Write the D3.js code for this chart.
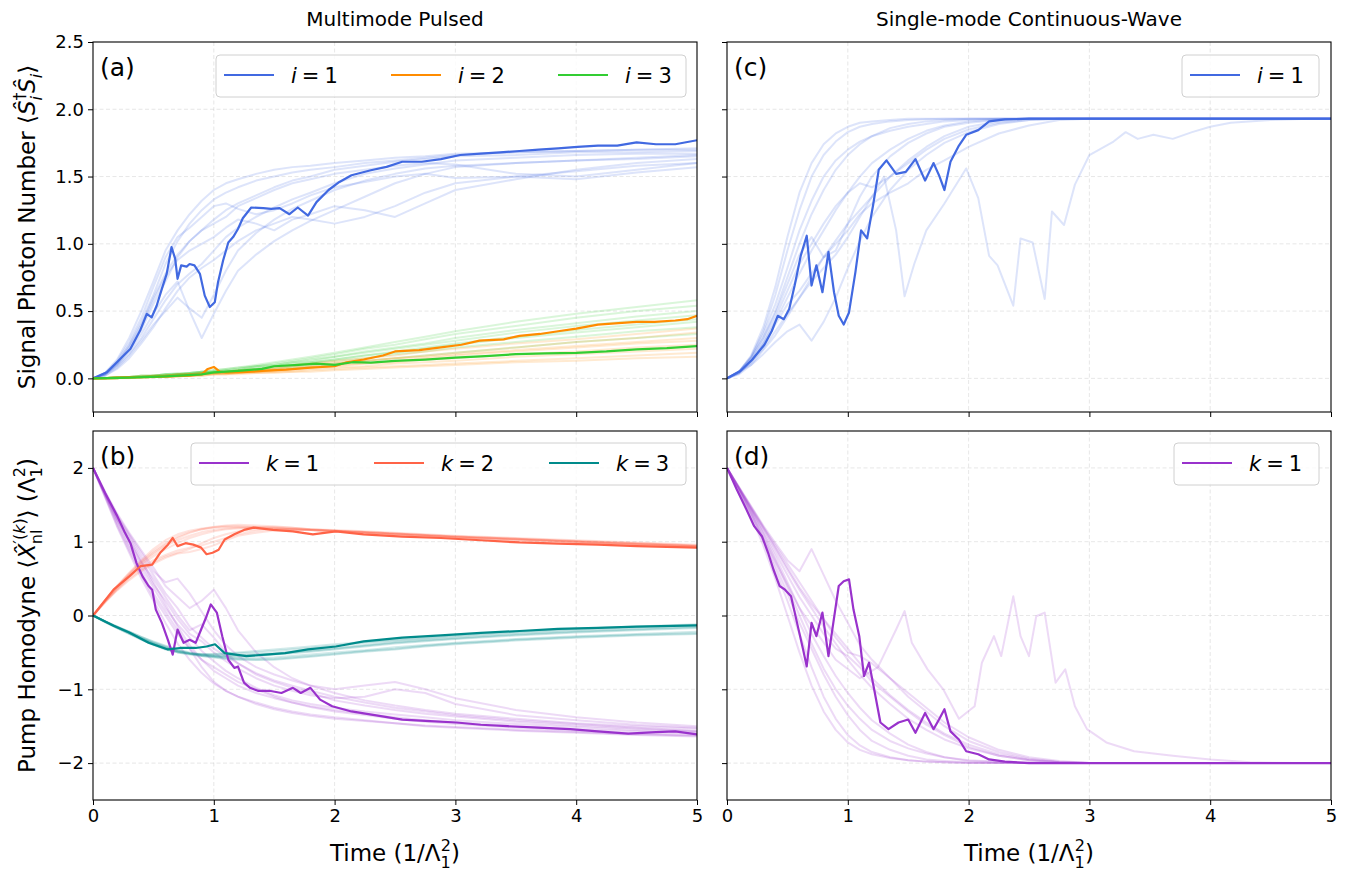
<!DOCTYPE html>
<html>
<head>
<meta charset="utf-8">
<script src="https://d3js.org/d3.v7.min.js"></script>
<style>
body { margin: 0; background: #fff; }
text { font-family: "DejaVu Sans", sans-serif; fill: #000; }
</style>
</head>
<body>
<svg id="chart" width="1361" height="871"></svg>
<script>
// ---- ticks ----
var timeTicks = [0, 1, 2, 3, 4, 5];
var signalTicks = [0, 0.5, 1, 1.5, 2, 2.5];
var pumpTicks = [-2, -1, 0, 1, 2];

// ---- shared time grid for the faint trajectories ----
var fadedTime = [0,0.1,0.2,0.3,0.4,0.5,0.6,0.7,0.8,0.9,1.0,1.1,1.2,1.35,1.5,1.65,1.8,2.0,2.25,2.5,2.75,3.0,3.5,4.0,4.5,5.0];

// (a) faint trajectories
var sig1Faded = [
  [0,0.04,0.12,0.25,0.42,0.62,0.85,1.02,1.15,1.25,1.33,1.38,1.42,1.47,1.50,1.53,1.55,1.57,1.60,1.62,1.64,1.66,1.68,1.69,1.70,1.71],
  [0,0.03,0.10,0.21,0.36,0.55,0.72,0.90,1.02,1.10,1.18,1.25,1.30,1.36,1.42,1.47,1.50,1.55,1.58,1.61,1.63,1.65,1.66,1.68,1.68,1.69],
  [0,0.03,0.09,0.18,0.30,0.44,0.58,0.70,0.78,0.85,0.95,1.05,1.12,1.20,1.27,1.33,1.38,1.45,1.52,1.56,1.59,1.62,1.64,1.66,1.67,1.67],
  [0,0.02,0.08,0.17,0.28,0.40,0.50,0.60,0.52,0.45,0.62,0.80,0.95,1.08,1.18,1.26,1.32,1.40,1.47,1.52,1.56,1.58,1.60,1.62,1.63,1.65],
  [0,0.04,0.13,0.27,0.45,0.68,0.90,1.05,1.12,1.20,1.28,1.30,1.26,1.22,1.25,1.30,1.36,1.42,1.46,1.50,1.52,1.49,1.50,1.54,1.58,1.60],
  [0,0.03,0.11,0.23,0.38,0.58,0.76,0.88,0.95,1.00,1.05,1.12,1.18,1.15,1.10,1.18,1.22,1.28,1.25,1.20,1.30,1.40,1.48,1.55,1.60,1.63],
  [0,0.03,0.10,0.20,0.33,0.48,0.62,0.72,0.50,0.30,0.48,0.65,0.80,0.92,1.02,1.10,1.17,1.25,1.35,1.45,1.52,1.57,1.60,1.62,1.64,1.66],
  [0,0.04,0.14,0.30,0.50,0.72,0.95,1.10,1.22,1.32,1.40,1.45,1.48,1.52,1.55,1.57,1.58,1.60,1.62,1.64,1.65,1.67,1.68,1.69,1.70,1.70],
  [0,0.02,0.07,0.15,0.26,0.38,0.52,0.65,0.75,0.82,0.88,0.95,1.02,1.10,1.15,1.20,1.18,1.15,1.20,1.28,1.38,1.45,1.50,1.48,1.53,1.57],
  [0,0.03,0.11,0.24,0.40,0.60,0.78,0.92,1.02,1.10,1.15,1.20,1.28,1.34,1.40,1.45,1.48,1.52,1.55,1.58,1.60,1.59,1.52,1.50,1.55,1.60]
];
var sig2Faded = [
  [0,0,0.01,0.01,0.01,0.02,0.02,0.02,0.03,0.03,0.04,0.04,0.05,0.06,0.07,0.08,0.09,0.11,0.13,0.15,0.17,0.19,0.23,0.27,0.30,0.34],
  [0,0,0,0.01,0.01,0.01,0.02,0.02,0.03,0.03,0.03,0.04,0.05,0.05,0.06,0.07,0.08,0.10,0.11,0.13,0.15,0.17,0.20,0.23,0.26,0.28],
  [0,0,0,0.01,0.01,0.01,0.02,0.02,0.02,0.03,0.03,0.03,0.04,0.05,0.05,0.06,0.07,0.08,0.09,0.11,0.12,0.13,0.16,0.18,0.20,0.22],
  [0,0,0,0,0.01,0.01,0.01,0.02,0.02,0.02,0.03,0.03,0.03,0.04,0.04,0.05,0.05,0.06,0.07,0.08,0.09,0.10,0.12,0.13,0.15,0.16],
  [0,0,0.01,0.01,0.01,0.02,0.02,0.03,0.03,0.04,0.04,0.05,0.05,0.06,0.07,0.09,0.10,0.12,0.13,0.15,0.16,0.18,0.21,0.24,0.27,0.30],
  [0,0,0.01,0.01,0.02,0.02,0.02,0.03,0.03,0.04,0.04,0.05,0.06,0.07,0.08,0.10,0.11,0.13,0.15,0.17,0.20,0.22,0.26,0.29,0.33,0.37],
  [0,0,0,0.01,0.01,0.01,0.01,0.02,0.02,0.02,0.03,0.03,0.04,0.04,0.05,0.05,0.06,0.07,0.08,0.09,0.10,0.11,0.13,0.15,0.17,0.19],
  [0,0,0,0.01,0.01,0.01,0.02,0.02,0.03,0.03,0.04,0.04,0.05,0.05,0.06,0.07,0.08,0.09,0.11,0.12,0.14,0.15,0.18,0.20,0.23,0.25]
];
var sig3Faded = [
  [0,0,0.01,0.01,0.02,0.02,0.03,0.04,0.04,0.05,0.06,0.07,0.08,0.10,0.12,0.14,0.16,0.19,0.23,0.27,0.31,0.35,0.42,0.48,0.53,0.58],
  [0,0,0.01,0.01,0.02,0.02,0.03,0.03,0.04,0.05,0.05,0.06,0.07,0.09,0.10,0.12,0.14,0.16,0.20,0.23,0.26,0.30,0.36,0.41,0.46,0.50],
  [0,0,0,0.01,0.01,0.02,0.02,0.03,0.03,0.04,0.05,0.05,0.06,0.08,0.09,0.11,0.12,0.14,0.17,0.20,0.23,0.26,0.31,0.36,0.40,0.44],
  [0,0,0,0.01,0.01,0.02,0.02,0.03,0.03,0.04,0.04,0.05,0.06,0.07,0.08,0.09,0.11,0.13,0.15,0.18,0.20,0.23,0.27,0.31,0.35,0.38],
  [0,0,0,0.01,0.01,0.01,0.02,0.02,0.03,0.03,0.04,0.04,0.05,0.06,0.07,0.08,0.09,0.11,0.13,0.15,0.17,0.19,0.23,0.27,0.30,0.33],
  [0,0,0.01,0.01,0.02,0.02,0.03,0.03,0.04,0.05,0.06,0.07,0.08,0.09,0.11,0.13,0.15,0.18,0.22,0.25,0.29,0.33,0.39,0.45,0.50,0.54],
  [0,0,0,0.01,0.01,0.02,0.02,0.03,0.03,0.04,0.05,0.05,0.06,0.07,0.09,0.10,0.12,0.14,0.17,0.19,0.22,0.25,0.30,0.34,0.38,0.42],
  [0,0,0.01,0.01,0.02,0.02,0.03,0.03,0.04,0.05,0.05,0.06,0.07,0.09,0.10,0.12,0.13,0.16,0.19,0.22,0.25,0.28,0.34,0.39,0.43,0.47]
];

// (b) faint trajectories
var pump1Faded = [
  [2,1.65,1.32,1.05,0.75,0.45,0.15,-0.15,-0.4,-0.6,-0.75,-0.85,-0.95,-1.05,-1.12,-1.18,-1.23,-1.28,-1.33,-1.38,-1.42,-1.45,-1.5,-1.54,-1.57,-1.6],
  [2,1.62,1.25,0.92,0.6,0.3,0.05,-0.2,-0.45,-0.7,-0.9,-1.02,-1.1,-1.2,-1.27,-1.32,-1.36,-1.4,-1.43,-1.46,-1.49,-1.51,-1.55,-1.58,-1.61,-1.63],
  [2,1.68,1.38,1.12,0.88,0.65,0.4,0.25,0.1,0.2,0.35,0.1,-0.2,-0.5,-0.7,-0.85,-0.95,-1.05,-1.15,-1.22,-1.28,-1.33,-1.4,-1.46,-1.5,-1.53],
  [2,1.64,1.3,1.0,0.7,0.42,0.2,-0.05,-0.25,-0.35,-0.5,-0.62,-0.72,-0.85,-0.95,-1.02,-1.08,-1.12,-1.1,-1.0,-1.05,-1.2,-1.35,-1.42,-1.48,-1.52],
  [2,1.66,1.34,1.08,0.8,0.55,0.3,0.1,-0.15,-0.3,-0.45,-0.55,-0.65,-0.78,-0.88,-0.95,-1.02,-1.1,-1.18,-1.25,-1.3,-1.35,-1.42,-1.47,-1.52,-1.56],
  [2,1.6,1.2,0.85,0.5,0.2,-0.1,-0.38,-0.6,-0.78,-0.92,-1.02,-1.1,-1.18,-1.25,-1.3,-1.34,-1.38,-1.42,-1.46,-1.5,-1.52,-1.56,-1.59,-1.62,-1.64],
  [2,1.67,1.36,1.1,0.85,0.6,0.45,0.5,0.3,0.05,-0.2,-0.4,-0.55,-0.7,-0.8,-0.88,-0.95,-1.0,-0.95,-0.9,-1.0,-1.12,-1.28,-1.38,-1.45,-1.5],
  [2,1.63,1.28,0.95,0.65,0.38,0.1,-0.12,-0.3,-0.48,-0.62,-0.75,-0.85,-0.98,-1.08,-1.15,-1.2,-1.25,-1.3,-1.34,-1.38,-1.42,-1.47,-1.51,-1.55,-1.58],
  [2,1.65,1.3,1.02,0.72,0.5,0.25,0.0,-0.2,-0.12,-0.3,-0.5,-0.65,-0.8,-0.9,-0.98,-1.05,-1.15,-1.22,-1.28,-1.33,-1.37,-1.44,-1.49,-1.53,-1.57],
  [2,1.61,1.22,0.88,0.55,0.25,0.0,-0.25,-0.45,-0.6,-0.7,-0.8,-0.9,-1.0,-1.1,-1.18,-1.24,-1.3,-1.35,-1.4,-1.44,-1.47,-1.52,-1.56,-1.6,-1.62]
];
var pump2Faded = [
  [0,0.2,0.4,0.58,0.75,0.9,1.02,1.1,1.15,1.18,1.2,1.21,1.21,1.2,1.19,1.18,1.17,1.15,1.13,1.11,1.09,1.07,1.04,1.01,0.98,0.95],
  [0,0.19,0.37,0.53,0.68,0.8,0.9,0.98,1.05,1.1,1.14,1.17,1.18,1.19,1.18,1.17,1.16,1.14,1.12,1.1,1.08,1.06,1.03,1.0,0.97,0.94],
  [0,0.18,0.35,0.5,0.62,0.72,0.8,0.85,0.9,0.98,1.05,1.1,1.14,1.17,1.18,1.17,1.16,1.15,1.13,1.11,1.09,1.07,1.04,1.01,0.98,0.95],
  [0,0.2,0.39,0.56,0.72,0.85,0.96,1.05,1.12,1.17,1.2,1.22,1.23,1.22,1.21,1.19,1.17,1.15,1.13,1.11,1.09,1.07,1.04,1.0,0.97,0.94],
  [0,0.19,0.36,0.52,0.65,0.75,0.82,0.88,0.92,0.95,1.0,1.05,1.1,1.15,1.17,1.17,1.16,1.15,1.12,1.1,1.08,1.06,1.02,0.99,0.96,0.93],
  [0,0.2,0.38,0.55,0.7,0.83,0.94,1.02,1.08,1.13,1.16,1.18,1.19,1.2,1.2,1.19,1.17,1.16,1.14,1.12,1.1,1.08,1.05,1.02,0.99,0.96],
  [0,0.18,0.34,0.48,0.6,0.7,0.78,0.84,0.86,0.9,0.95,1.02,1.08,1.12,1.15,1.16,1.16,1.14,1.12,1.1,1.08,1.06,1.03,1.0,0.97,0.94],
  [0,0.2,0.4,0.57,0.73,0.87,0.98,1.07,1.13,1.17,1.19,1.2,1.2,1.19,1.18,1.17,1.16,1.14,1.12,1.1,1.08,1.06,1.03,1.0,0.96,0.93]
];
var pump3Faded = [
  [0,-0.08,-0.16,-0.24,-0.32,-0.39,-0.45,-0.5,-0.53,-0.55,-0.56,-0.56,-0.56,-0.55,-0.53,-0.51,-0.49,-0.46,-0.42,-0.38,-0.35,-0.32,-0.27,-0.23,-0.2,-0.17],
  [0,-0.08,-0.15,-0.22,-0.29,-0.35,-0.41,-0.46,-0.5,-0.53,-0.55,-0.57,-0.58,-0.58,-0.57,-0.55,-0.53,-0.5,-0.47,-0.43,-0.4,-0.37,-0.32,-0.28,-0.25,-0.22],
  [0,-0.09,-0.17,-0.25,-0.33,-0.4,-0.46,-0.5,-0.52,-0.53,-0.53,-0.52,-0.51,-0.5,-0.48,-0.46,-0.44,-0.41,-0.37,-0.34,-0.31,-0.28,-0.23,-0.19,-0.16,-0.13],
  [0,-0.08,-0.15,-0.23,-0.3,-0.37,-0.43,-0.48,-0.52,-0.55,-0.57,-0.59,-0.6,-0.6,-0.59,-0.57,-0.55,-0.52,-0.48,-0.45,-0.41,-0.38,-0.33,-0.29,-0.26,-0.24],
  [0,-0.08,-0.16,-0.23,-0.31,-0.38,-0.44,-0.49,-0.52,-0.54,-0.55,-0.55,-0.54,-0.53,-0.51,-0.49,-0.47,-0.44,-0.4,-0.36,-0.33,-0.3,-0.25,-0.21,-0.18,-0.15],
  [0,-0.09,-0.17,-0.25,-0.32,-0.39,-0.45,-0.49,-0.51,-0.52,-0.52,-0.51,-0.5,-0.48,-0.46,-0.44,-0.42,-0.39,-0.36,-0.33,-0.3,-0.27,-0.22,-0.18,-0.15,-0.12],
  [0,-0.08,-0.15,-0.22,-0.29,-0.36,-0.42,-0.47,-0.51,-0.54,-0.56,-0.58,-0.59,-0.6,-0.6,-0.58,-0.56,-0.53,-0.49,-0.46,-0.42,-0.39,-0.34,-0.3,-0.27,-0.25],
  [0,-0.08,-0.16,-0.24,-0.31,-0.38,-0.44,-0.48,-0.51,-0.53,-0.54,-0.54,-0.54,-0.53,-0.52,-0.5,-0.48,-0.45,-0.41,-0.37,-0.34,-0.31,-0.26,-0.22,-0.19,-0.16]
];

// (c) faint trajectories
var cwSigFaded = [
  [0,0.05,0.16,0.35,0.62,0.95,1.25,1.5,1.66,1.76,1.83,1.87,1.89,1.91,1.92,1.925,1.93,1.93,1.93,1.93,1.93,1.93,1.93,1.93,1.93,1.93],
  [0,0.05,0.15,0.3,0.5,0.75,1.0,1.22,1.4,1.55,1.66,1.74,1.8,1.86,1.89,1.91,1.92,1.93,1.93,1.93,1.93,1.93,1.93,1.93,1.93,1.93],
  [0,0.04,0.13,0.26,0.42,0.6,0.78,0.95,1.1,1.25,1.38,1.5,1.6,1.7,1.78,1.84,1.88,1.91,1.925,1.93,1.93,1.93,1.93,1.93,1.93,1.93],
  [0,0.04,0.12,0.22,0.35,0.48,0.6,0.72,0.82,0.92,1.05,1.2,1.35,1.5,1.62,1.72,1.8,1.87,1.91,1.93,1.93,1.93,1.93,1.93,1.93,1.93],
  [0,0.05,0.15,0.3,0.48,0.7,0.92,1.05,0.9,0.95,1.15,1.35,1.5,1.65,1.75,1.82,1.87,1.9,1.92,1.93,1.93,1.93,1.93,1.93,1.93,1.93],
  [0,0.03,0.1,0.18,0.27,0.35,0.4,0.28,0.42,0.6,0.82,1.02,1.2,1.4,1.55,1.66,1.75,1.83,1.89,1.92,1.93,1.93,1.93,1.93,1.93,1.93],
  [0,0.05,0.17,0.38,0.68,1.05,1.38,1.6,1.74,1.82,1.87,1.9,1.91,1.92,1.93,1.93,1.93,1.93,1.93,1.93,1.93,1.93,1.93,1.93,1.93,1.93],
  [0,0.04,0.13,0.27,0.45,0.65,0.85,1.0,1.15,1.28,1.38,1.45,1.42,1.5,1.6,1.7,1.78,1.85,1.9,1.92,1.93,1.93,1.93,1.93,1.93,1.93],
  [0,0.04,0.12,0.25,0.4,0.55,0.65,0.78,0.9,1.0,1.1,1.22,1.3,1.38,1.45,1.55,1.62,1.72,1.82,1.88,1.92,1.93,1.93,1.93,1.93,1.93],
  [0,0.05,0.16,0.33,0.55,0.82,1.1,1.32,1.5,1.62,1.7,1.76,1.8,1.84,1.87,1.89,1.91,1.92,1.93,1.93,1.93,1.93,1.93,1.93,1.93,1.93]
];
var cwSigOutT = [0,0.2,0.4,0.6,0.8,1.0,1.2,1.3,1.4,1.47,1.55,1.65,1.8,1.98,2.08,2.17,2.24,2.37,2.43,2.53,2.63,2.69,2.79,2.88,3.0,3.2,3.3,3.4,3.53,3.69,3.85,4.0,4.17,4.5,4.82,5.0];
var cwSigOutV = [0,0.1,0.32,0.6,0.9,1.15,1.35,1.5,1.1,0.61,0.85,1.1,1.3,1.56,1.34,0.91,0.84,0.54,1.04,1.01,0.59,1.24,1.14,1.44,1.66,1.76,1.83,1.78,1.81,1.78,1.83,1.87,1.9,1.92,1.93,1.93];

// (d) faint trajectories
var cwPumpFaded = [
  [2,1.7,1.35,0.95,0.5,0.0,-0.5,-0.95,-1.3,-1.55,-1.72,-1.82,-1.88,-1.93,-1.96,-1.98,-1.99,-2,-2,-2,-2,-2,-2,-2,-2,-2],
  [2,1.72,1.42,1.1,0.75,0.38,0.0,-0.38,-0.72,-1.0,-1.22,-1.4,-1.55,-1.7,-1.8,-1.87,-1.92,-1.96,-1.98,-1.99,-2,-2,-2,-2,-2,-2],
  [2,1.73,1.45,1.18,0.9,0.62,0.35,0.1,-0.15,-0.38,-0.6,-0.8,-0.98,-1.2,-1.4,-1.55,-1.68,-1.8,-1.9,-1.96,-1.99,-2,-2,-2,-2,-2],
  [2,1.74,1.48,1.22,0.98,0.75,0.6,0.9,0.55,0.2,-0.1,-0.4,-0.6,-0.85,-1.1,-1.3,-1.5,-1.7,-1.85,-1.94,-1.98,-2,-2,-2,-2,-2],
  [2,1.71,1.4,1.05,0.68,0.3,-0.1,-0.45,-0.8,-1.1,-1.35,-1.55,-1.7,-1.82,-1.9,-1.95,-1.97,-1.99,-2,-2,-2,-2,-2,-2,-2,-2],
  [2,1.72,1.44,1.15,0.85,0.55,0.25,0.0,-0.25,-0.45,-0.55,-0.7,-0.9,-1.1,-1.3,-1.48,-1.62,-1.78,-1.9,-1.96,-1.99,-2,-2,-2,-2,-2],
  [2,1.7,1.38,1.02,0.62,0.2,-0.25,-0.7,-1.1,-1.4,-1.62,-1.76,-1.85,-1.92,-1.96,-1.98,-1.99,-2,-2,-2,-2,-2,-2,-2,-2,-2],
  [2,1.73,1.46,1.2,0.95,0.7,0.45,0.2,-0.05,-0.3,-0.5,-0.55,-0.65,-0.85,-1.05,-1.25,-1.45,-1.65,-1.82,-1.92,-1.97,-2,-2,-2,-2,-2],
  [2,1.72,1.43,1.12,0.8,0.45,0.1,-0.25,-0.55,-0.82,-1.05,-1.25,-1.42,-1.6,-1.75,-1.85,-1.92,-1.97,-1.99,-2,-2,-2,-2,-2,-2,-2],
  [2,1.73,1.47,1.2,0.92,0.65,0.38,0.15,-0.05,-0.25,-0.45,-0.65,-0.85,-1.08,-1.28,-1.45,-1.6,-1.75,-1.88,-1.95,-1.99,-2,-2,-2,-2,-2]
];
var cwPumpOutT = [0,0.3,0.6,0.9,1.1,1.25,1.4,1.47,1.53,1.66,1.79,1.92,2.05,2.11,2.21,2.27,2.37,2.43,2.5,2.56,2.63,2.72,2.8,2.88,2.98,3.14,3.37,3.69,4.0,4.33,4.7,5.0];
var cwPumpOutV = [2,1.05,0.1,-0.6,-0.85,-0.7,-0.19,0.06,-0.37,-0.73,-1.0,-1.4,-1.23,-0.64,-0.28,-0.55,0.26,-0.28,-0.55,-0.01,0.04,-0.91,-0.73,-1.23,-1.54,-1.72,-1.84,-1.9,-1.95,-1.99,-2,-2];

// ---- highlighted trajectories ----
var sig1T = [0,0.115,0.225,0.31,0.39,0.445,0.486,0.527,0.57,0.61,0.65,0.68,0.70,0.73,0.775,0.80,0.84,0.885,0.925,0.967,1.008,1.035,1.077,1.12,1.16,1.2,1.24,1.31,1.41,1.475,1.545,1.626,1.695,1.78,1.85,1.95,2.04,2.14,2.30,2.43,2.56,2.72,2.88,3.04,3.21,3.37,3.53,3.69,3.85,4.01,4.18,4.34,4.50,4.66,4.82,5.0];
var sig1V = [0,0.045,0.144,0.22,0.355,0.48,0.454,0.54,0.665,0.777,0.975,0.89,0.74,0.84,0.83,0.85,0.84,0.777,0.615,0.53,0.566,0.715,0.876,1.01,1.05,1.11,1.19,1.27,1.265,1.26,1.265,1.22,1.27,1.21,1.31,1.40,1.46,1.51,1.547,1.572,1.61,1.61,1.63,1.66,1.67,1.68,1.69,1.70,1.71,1.72,1.73,1.73,1.754,1.74,1.74,1.77];
var sig2T = [0,0.3,0.6,0.8,0.9,0.95,1.0,1.05,1.1,1.2,1.4,1.6,1.8,2.0,2.1,2.24,2.4,2.5,2.7,2.88,3.05,3.2,3.4,3.53,3.7,3.85,4.0,4.18,4.35,4.5,4.65,4.82,4.92,5.0];
var sig2V = [0,0.005,0.012,0.02,0.03,0.07,0.085,0.05,0.045,0.045,0.055,0.065,0.08,0.09,0.12,0.14,0.17,0.2,0.21,0.23,0.25,0.28,0.29,0.316,0.33,0.35,0.37,0.40,0.41,0.42,0.42,0.43,0.44,0.465];
var sig3T = [0,0.3,0.6,0.9,1.0,1.2,1.4,1.5,1.7,1.85,2.0,2.15,2.3,2.5,2.75,3.0,3.25,3.5,3.75,4.0,4.25,4.5,4.75,5.0];
var sig3V = [0,0.005,0.015,0.03,0.045,0.055,0.07,0.09,0.10,0.11,0.10,0.12,0.117,0.13,0.14,0.154,0.165,0.18,0.185,0.19,0.20,0.216,0.225,0.24];

var pump1T = [0,0.1,0.2,0.265,0.31,0.36,0.41,0.46,0.49,0.52,0.57,0.62,0.66,0.70,0.75,0.80,0.85,0.895,0.94,0.975,1.025,1.07,1.12,1.17,1.20,1.25,1.30,1.365,1.46,1.56,1.655,1.72,1.80,1.88,1.98,2.14,2.37,2.56,2.79,3.01,3.21,3.43,3.69,3.95,4.18,4.43,4.66,4.82,5.0];
var pump1V = [2,1.66,1.35,1.12,0.98,0.71,0.53,0.40,0.35,0.08,-0.10,-0.33,-0.53,-0.19,-0.37,-0.33,-0.37,-0.19,-0.01,0.15,0.04,-0.28,-0.60,-0.71,-0.69,-0.91,-0.98,-1.02,-1.02,-1.05,-0.98,-1.05,-0.98,-1.14,-1.23,-1.30,-1.36,-1.41,-1.43,-1.45,-1.48,-1.50,-1.52,-1.54,-1.57,-1.60,-1.58,-1.57,-1.61];
var pump2T = [0,0.17,0.30,0.395,0.49,0.556,0.62,0.66,0.70,0.766,0.83,0.895,0.94,0.99,1.04,1.09,1.17,1.25,1.33,1.49,1.655,1.82,2.01,2.24,2.56,2.88,3.21,3.53,3.85,4.18,4.50,5.0];
var pump2V = [0,0.35,0.53,0.67,0.69,0.85,0.96,1.05,0.94,0.98,0.96,0.92,0.83,0.85,0.89,1.03,1.10,1.16,1.19,1.16,1.14,1.10,1.14,1.10,1.07,1.05,1.02,0.99,0.975,0.96,0.94,0.92];
var pump3T = [0,0.17,0.30,0.46,0.62,0.72,0.85,0.94,1.01,1.09,1.27,1.43,1.59,1.78,2.01,2.24,2.56,2.88,3.21,3.53,3.85,4.18,4.50,5.0];
var pump3V = [0,-0.14,-0.23,-0.37,-0.46,-0.44,-0.44,-0.42,-0.39,-0.51,-0.55,-0.53,-0.51,-0.46,-0.42,-0.35,-0.30,-0.27,-0.235,-0.21,-0.18,-0.167,-0.15,-0.135];

var cwSigT = [0,0.11,0.21,0.31,0.37,0.42,0.47,0.515,0.56,0.61,0.66,0.70,0.74,0.79,0.84,0.886,0.925,0.966,1.01,1.063,1.11,1.16,1.21,1.256,1.32,1.40,1.48,1.56,1.64,1.71,1.755,1.80,1.85,1.92,1.98,2.08,2.17,2.30,2.5,3.0,4.0,5.0];
var cwSigV = [0,0.055,0.14,0.25,0.35,0.465,0.44,0.515,0.69,0.91,1.06,0.69,0.84,0.64,0.94,0.64,0.465,0.40,0.49,0.79,1.10,1.04,1.29,1.55,1.62,1.52,1.535,1.63,1.47,1.60,1.51,1.40,1.61,1.73,1.81,1.845,1.91,1.925,1.93,1.93,1.93,1.93];
var cwPumpT = [0,0.08,0.16,0.225,0.29,0.34,0.385,0.435,0.48,0.53,0.58,0.63,0.66,0.70,0.74,0.79,0.84,0.88,0.925,0.966,1.01,1.047,1.095,1.134,1.176,1.224,1.27,1.337,1.42,1.50,1.56,1.64,1.71,1.755,1.80,1.85,1.92,1.98,2.08,2.17,2.30,2.5,3.0,4.0,5.0];
var cwPumpV = [2,1.71,1.44,1.21,1.07,0.85,0.62,0.40,0.35,0.26,-0.10,-0.46,-0.69,-0.10,-0.28,0.04,-0.55,-0.10,0.40,0.465,0.49,0.08,-0.28,-0.82,-0.64,-1.05,-1.45,-1.54,-1.45,-1.41,-1.59,-1.32,-1.54,-1.41,-1.27,-1.57,-1.68,-1.84,-1.88,-1.95,-1.98,-2,-2,-2,-2];

// ---- colours ----
var cBlue = "#4169e1", cOrange = "#ff8c00", cGreen = "#32cd32";
var cPurple = "#9932cc", cTomato = "#ff6347", cTeal = "#008b8b";

var svg = d3.select("#chart");

var L = [93, 697], R = [727, 1331];
var T = [42, 412], B = [431, 800];
var tickFont = 18, labelFont = 23;

function pairs(t, v) { return t.map(function(d, i){ return [d, v[i]]; }); }

var clipId = 0;
function panel(xr, yr, ydom, yticks, yfmt, showX, showY, letter) {
  var x = d3.scaleLinear().domain([0, 5]).range(xr);
  var y = d3.scaleLinear().domain(ydom).range([yr[1], yr[0]]);
  var g = svg.append("g");
  // grid
  g.selectAll(".vg").data(timeTicks.slice(1, 5)).enter().append("line")
    .attr("x1", function(d){ return x(d); }).attr("x2", function(d){ return x(d); })
    .attr("y1", yr[0]).attr("y2", yr[1])
    .attr("stroke", "#b0b0b0").attr("stroke-opacity", 0.3).attr("stroke-dasharray", "4,2.5");
  g.selectAll(".hg").data(yticks.filter(function(d){ return y(d) > yr[0] + 1; })).enter().append("line")
    .attr("x1", xr[0]).attr("x2", xr[1])
    .attr("y1", function(d){ return y(d); }).attr("y2", function(d){ return y(d); })
    .attr("stroke", "#b0b0b0").attr("stroke-opacity", 0.3).attr("stroke-dasharray", "4,2.5");
  var id = "clip" + (clipId++);
  svg.append("clipPath").attr("id", id).append("rect")
    .attr("x", xr[0]).attr("y", yr[0]).attr("width", xr[1] - xr[0]).attr("height", yr[1] - yr[0]);
  var plot = svg.append("g").attr("clip-path", "url(#" + id + ")");
  // axes
  var xa = d3.axisBottom(x).tickValues(timeTicks).tickSize(5).tickPadding(4)
    .tickFormat(showX ? d3.format("d") : "");
  var ya = d3.axisLeft(y).tickValues(yticks).tickSize(5).tickPadding(4)
    .tickFormat(showY ? yfmt : "");
  var gx = svg.append("g").attr("transform", "translate(0," + yr[1] + ")").call(xa);
  var gy = svg.append("g").attr("transform", "translate(" + xr[0] + ",0)").call(ya);
  [gx, gy].forEach(function(a){
    a.attr("font-size", tickFont).attr("font-family", "DejaVu Sans");
    a.select(".domain").remove();
    a.selectAll("line").attr("stroke", "#000").attr("stroke-width", 1);
    a.selectAll("text").attr("fill", "#000").style("font-size", tickFont + "px");
  });
  svg.append("rect").attr("x", xr[0]).attr("y", yr[0])
    .attr("width", xr[1] - xr[0]).attr("height", yr[1] - yr[0])
    .attr("fill", "none").attr("stroke", "#000").attr("stroke-width", 1.1);
  svg.append("text").attr("x", xr[0] + 7).attr("y", yr[0] + 34)
    .attr("font-size", 25).text(letter);
  return { x: x, y: y, plot: plot };
}

function drawLines(p, tGrid, rows, color, alpha, w) {
  var line = d3.line().x(function(d){ return p.x(d[0]); }).y(function(d){ return p.y(d[1]); });
  p.plot.append("g").selectAll("path").data(rows).enter().append("path")
    .attr("d", function(r){ return line(pairs(tGrid, r)); })
    .attr("fill", "none").attr("stroke", color).attr("stroke-opacity", alpha)
    .attr("stroke-width", w).attr("stroke-linejoin", "round");
}
function drawMain(p, t, v, color) {
  var line = d3.line().x(function(d){ return p.x(d[0]); }).y(function(d){ return p.y(d[1]); });
  p.plot.append("path").attr("d", line(pairs(t, v)))
    .attr("fill", "none").attr("stroke", color).attr("stroke-width", 2.2).attr("stroke-linejoin", "round");
}

var minus = function(d){ return d3.format("d")(d).replace("-", "\u2212"); };

var pa = panel(L, T, [-0.25, 2.5], signalTicks, d3.format(".1f"), false, true, "(a)");
var pb = panel(L, B, [-2.5, 2.5], pumpTicks, minus, true, true, "(b)");
var pc = panel(R, T, [-0.25, 2.5], signalTicks, d3.format(".1f"), false, false, "(c)");
var pd = panel(R, B, [-2.5, 2.5], pumpTicks, minus, true, false, "(d)");

var fa = 0.18;
drawLines(pa, fadedTime, sig1Faded, cBlue, fa, 2);
drawLines(pa, fadedTime, sig3Faded, cGreen, fa, 2);
drawLines(pa, fadedTime, sig2Faded, cOrange, fa, 2);
drawMain(pa, sig1T, sig1V, cBlue);
drawMain(pa, sig2T, sig2V, cOrange);
drawMain(pa, sig3T, sig3V, cGreen);

drawLines(pb, fadedTime, pump1Faded, cPurple, fa, 2);
drawLines(pb, fadedTime, pump2Faded, cTomato, fa, 2);
drawLines(pb, fadedTime, pump3Faded, cTeal, fa, 2);
drawMain(pb, pump1T, pump1V, cPurple);
drawMain(pb, pump2T, pump2V, cTomato);
drawMain(pb, pump3T, pump3V, cTeal);

drawLines(pc, fadedTime, cwSigFaded, cBlue, fa, 2);
drawLines(pc, cwSigOutT, [cwSigOutV], cBlue, fa, 2);
drawMain(pc, cwSigT, cwSigV, cBlue);

drawLines(pd, fadedTime, cwPumpFaded, cPurple, fa, 2);
drawLines(pd, cwPumpOutT, [cwPumpOutV], cPurple, fa, 2);
drawMain(pd, cwPumpT, cwPumpV, cPurple);

// ---- rich text helper (sub/superscripts), dx in px ----
function rich(sel, segs, size) {
  var cur = 0;
  segs.forEach(function(s){
    var off = s.s === "sup" ? -0.42 * size : (s.s === "sub" ? 0.3 * size : 0);
    var ts = sel.append("tspan").text(s.t).attr("dy", off - cur)
      .attr("font-size", s.s ? size * 0.7 : size);
    if (s.it) ts.attr("font-style", "italic");
    if (s.dx) ts.attr("dx", s.dx);
    cur = off;
  });
  if (cur) sel.append("tspan").text("").attr("dy", -cur);
}

// ---- legends ----
function legend(x0, y0, w, entries) {
  svg.append("rect").attr("x", x0).attr("y", y0).attr("width", w).attr("height", 42)
    .attr("rx", 4).attr("fill", "#fff").attr("fill-opacity", 0.8)
    .attr("stroke", "#d0d0d0").attr("stroke-width", 1);
  entries.forEach(function(e){
    svg.append("line").attr("x1", e.x).attr("x2", e.x + 50).attr("y1", y0 + 20).attr("y2", y0 + 20)
      .attr("stroke", e.c).attr("stroke-width", 2.2);
    var t = svg.append("text").attr("x", e.x + 67).attr("y", y0 + 28).attr("font-size", 21);
    t.append("tspan").attr("font-style", "italic").text(e.v);
    t.append("tspan").attr("dx", 5).text("=");
    t.append("tspan").attr("dx", 5).text(e.n);
  });
}
legend(216, 55, 470, [{x: 224, c: cBlue, v: "i", n: 1}, {x: 391, c: cOrange, v: "i", n: 2}, {x: 558, c: cGreen, v: "i", n: 3}]);
legend(191, 443, 495, [{x: 199, c: cPurple, v: "k", n: 1}, {x: 374, c: cTomato, v: "k", n: 2}, {x: 549, c: cTeal, v: "k", n: 3}]);
legend(1182, 55, 137, [{x: 1190, c: cBlue, v: "i", n: 1}]);
legend(1174, 443, 145, [{x: 1182, c: cPurple, v: "k", n: 1}]);

// ---- titles ----
svg.append("text").attr("x", (L[0] + L[1]) / 2).attr("y", 26).attr("text-anchor", "middle")
  .attr("font-size", 20).text("Multimode Pulsed");
svg.append("text").attr("x", (R[0] + R[1]) / 2).attr("y", 26).attr("text-anchor", "middle")
  .attr("font-size", 20).text("Single-mode Continuous-Wave");

// ---- axis labels ----
var yl1 = svg.append("text").attr("transform", "translate(35," + (T[0] + T[1]) / 2 + ") rotate(-90)")
  .attr("text-anchor", "middle").attr("font-size", labelFont);
rich(yl1, [
  {t: "Signal Photon Number \u27E8"},
  {t: "S\u0302", it: true},
  {t: "\u2020", s: "sup"},
  {t: "i", s: "sub", it: true, dx: -8},
  {t: "S\u0302", it: true, dx: 3},
  {t: "i", s: "sub", it: true},
  {t: "\u27E9"}
], labelFont);

var yl2 = svg.append("text").attr("transform", "translate(35," + (B[0] + B[1]) / 2 + ") rotate(-90)")
  .attr("text-anchor", "middle").attr("font-size", labelFont);
rich(yl2, [
  {t: "Pump Homodyne \u27E8"},
  {t: "X\u0302", it: true},
  {t: "\u2032(", s: "sup"},
  {t: "k", s: "sup", it: true},
  {t: ")", s: "sup"},
  {t: "nl", s: "sub", dx: -26},
  {t: "\u27E9", dx: 11},
  {t: " (\u039B"},
  {t: "1", s: "sub"},
  {t: "2", s: "sup", dx: -10},
  {t: ")"}
], labelFont);

[L, R].forEach(function(xr){
  var xl = svg.append("text").attr("x", (xr[0] + xr[1]) / 2).attr("y", 861)
    .attr("text-anchor", "middle").attr("font-size", labelFont);
  rich(xl, [
    {t: "Time (1/\u039B"},
    {t: "1", s: "sub"},
    {t: "2", s: "sup", dx: -10},
    {t: ")"}
  ], labelFont);
});
</script>
</body>
</html>
